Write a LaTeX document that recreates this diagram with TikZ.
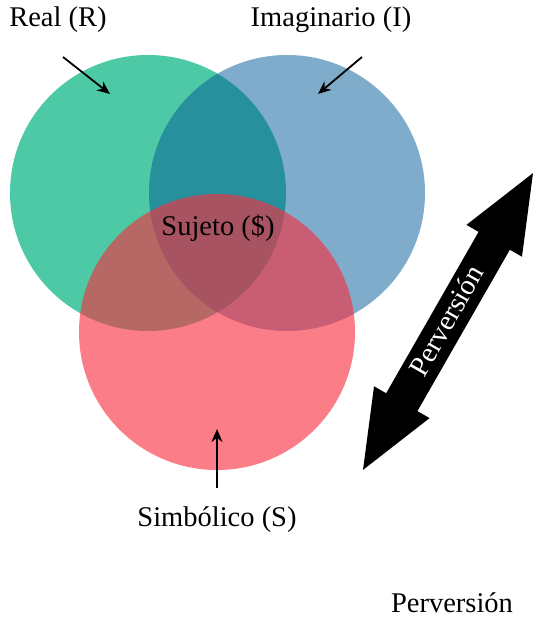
\documentclass[tikz,border=0pt]{standalone}
\usepackage{fontspec}
\setmainfont{Liberation Serif}
\usepackage{xcolor}
\usepackage{tikz}
\usetikzlibrary{arrows.meta}

\definecolor{realcol}{RGB}{77,201,165}
\definecolor{imagcol}{RGB}{0,90,150}
\definecolor{simbcol}{RGB}{247,45,61}

\tikzset{
    label/.style={font=\fontsize{28.5}{34}\selectfont, inner sep=0pt},
    pointer/.style={-{Stealth[length=13pt, width=11pt]}, line width=1.8pt},
}

\begin{document}
\begin{tikzpicture}[x=1pt, y=1pt]
    \useasboundingbox (0,0) rectangle (534,618);
    % Circles
    \fill[realcol] (148,425) circle (138);
    \fill[imagcol, fill opacity=0.5] (287,425) circle (138);
    \fill[simbcol, fill opacity=0.62] (217,286) circle (138);
    % Labels
    \node[label] (real) at ( 58,598) {Real (R)};
    \node[label] (imag) at (331,598) {Imaginario (I)};
    \node[label] (suj)  at (218,390) {Sujeto (\$)};
    \node[label] (simb) at (217, 98) {Simbólico (S)};
    \node[label] (perv) at (452, 15) {Perversión};
    % Pointers
    \coordinate (realfrom) at ( 63,561);
    \coordinate (realto)   at (110,524);
    \coordinate (imagfrom) at (362,561);
    \coordinate (imagto)   at (318,524);
    \coordinate (simbfrom) at (217,130);
    \coordinate (simbto)   at (217,189);
    \draw[pointer] (realfrom) -- (realto);
    \draw[pointer] (imagfrom) -- (imagto);
    \draw[pointer] (simbfrom) -- (simbto);
    % Double arrow
    \begin{scope}[shift={(448,296.5)}, rotate=60.2]
        \fill[black] (-171,0) -- (-93,32) -- (-93,18) -- (93,18) -- (93,32) -- (171,0)
            -- (93,-32) -- (93,-18) -- (-93,-18) -- (-93,-32) -- cycle;
        \node[label, text=white, rotate=60.2] (arrowtxt) at (0,2) {Perversión};
    \end{scope}
\end{tikzpicture}
\end{document}
